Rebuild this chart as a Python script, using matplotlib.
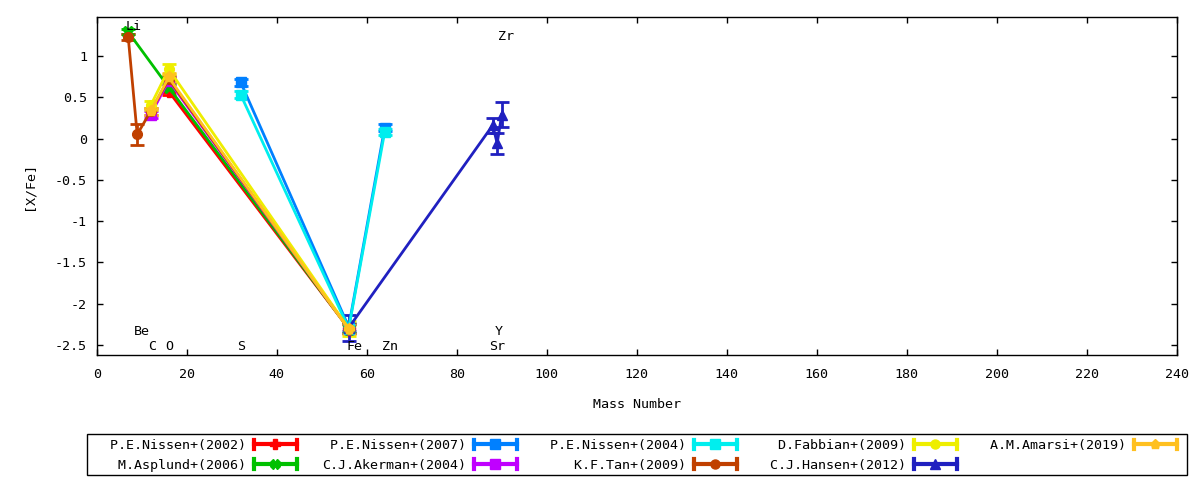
import matplotlib
matplotlib.use("Agg")
import matplotlib.pyplot as plt
from matplotlib.lines import Line2D
from matplotlib.patches import Rectangle
from matplotlib.legend_handler import HandlerBase
from matplotlib.ticker import FormatStrFormatter

plt.rcParams['font.family'] = ['DejaVu Sans Mono']
plt.rcParams['axes.unicode_minus'] = False

# ---------------- data ----------------
nissen2002_mass = [16, 56]
nissen2002_val = [0.57, -2.30]
nissen2002_err = [0.04, 0.05]

asplund2006_mass = [7, 16, 56]
asplund2006_val = [1.29, 0.62, -2.30]
asplund2006_err = [0.03, 0.04, 0.05]

nissen2007_mass = [32, 56, 64]
nissen2007_val = [0.68, -2.28, 0.13]
nissen2007_err = [0.04, 0.05, 0.04]

akerman2004_mass = [12, 16, 56]
akerman2004_val = [0.29, 0.70, -2.30]
akerman2004_err = [0.04, 0.04, 0.05]

nissen2004_mass = [32, 56, 64]
nissen2004_val = [0.53, -2.30, 0.08]
nissen2004_err = [0.04, 0.05, 0.04]

tan2009_mass = [7, 9, 12, 16, 56]
tan2009_val = [1.23, 0.05, 0.33, 0.72, -2.30]
tan2009_err = [0.04, 0.13, 0.04, 0.04, 0.05]

fabbian2009_mass = [12, 16, 56]
fabbian2009_val = [0.40, 0.84, -2.30]
fabbian2009_err = [0.05, 0.06, 0.09]

hansen2012_mass = [56, 88, 89, 90]
hansen2012_val = [-2.29, 0.16, -0.06, 0.29]
hansen2012_err = [0.16, 0.09, 0.13, 0.15]

amarsi2019_mass = [12, 16, 56]
amarsi2019_val = [0.33, 0.74, -2.31]
amarsi2019_err = [0.04, 0.05, 0.05]

element_names = ["Li", "Be", "C", "O", "S", "Fe", "Zn", "Sr", "Y", "Zr"]
element_label_x = [8.3, 10.1, 12.3, 16.2, 32.1, 57.2, 65.2, 89.0, 89.4, 91.0]
element_label_y = [1.36, -2.33, -2.515, -2.515, -2.515, -2.515, -2.515, -2.515, -2.33, 1.235]

x_ticks = list(range(0, 241, 20))
y_ticks = [-2.5, -2, -1.5, -1, -0.5, 0, 0.5, 1]

series = [
    ("P.E.Nissen+(2002)", nissen2002_mass, nissen2002_val, nissen2002_err, "#ff0000", "P", 8),
    ("M.Asplund+(2006)", asplund2006_mass, asplund2006_val, asplund2006_err, "#00c000", "X", 8),
    ("P.E.Nissen+(2007)", nissen2007_mass, nissen2007_val, nissen2007_err, "#0080ff", "s", 7),
    ("C.J.Akerman+(2004)", akerman2004_mass, akerman2004_val, akerman2004_err, "#c000ff", "s", 7),
    ("P.E.Nissen+(2004)", nissen2004_mass, nissen2004_val, nissen2004_err, "#00eeee", "s", 7),
    ("K.F.Tan+(2009)", tan2009_mass, tan2009_val, tan2009_err, "#c04000", "o", 7),
    ("D.Fabbian+(2009)", fabbian2009_mass, fabbian2009_val, fabbian2009_err, "#eeee00", "o", 7),
    ("C.J.Hansen+(2012)", hansen2012_mass, hansen2012_val, hansen2012_err, "#2020c0", "^", 7.5),
    ("A.M.Amarsi+(2019)", amarsi2019_mass, amarsi2019_val, amarsi2019_err, "#ffc020", "p", 8),
]

FS = 9.6

fig = plt.figure(figsize=(12, 4.8), dpi=100)
ax = fig.add_axes([96.7 / 1200, 1 - 355 / 480, 1080 / 1200, (355 - 17.3) / 480])

handles = []
for label, m, v, e, col, mk, ms in series:
    ax.errorbar(m, v, yerr=e, color=col, lw=2, marker=mk, ms=ms,
                capsize=5, capthick=2, elinewidth=2, mec=col, mfc=col)
    handles.append(Line2D([], [], color=col, marker=mk, label=label))

for name, lx, ly in zip(element_names, element_label_x, element_label_y):
    ax.text(lx, ly, name, ha="center", va="center", fontsize=FS, color="black")

ax.set_xlim(0, 240)
ax.set_ylim(-2.62, 1.467)
ax.set_xticks(x_ticks)
ax.set_yticks(y_ticks)
ax.yaxis.set_major_formatter(FormatStrFormatter('%g'))
ax.tick_params(direction="in", length=4.5, width=1, top=True, right=True,
               labelsize=FS)
ax.tick_params(axis="x", pad=9)
ax.tick_params(axis="y", pad=7)
for sp in ax.spines.values():
    sp.set_linewidth(1)

ax.set_xlabel("Mass Number", fontsize=FS, va="center")
ax.xaxis.set_label_coords(0.5, (355 - 405) / 337.7)
ax.set_ylabel("[X/Fe]", fontsize=FS, va="center", ha="center")
ax.yaxis.set_label_coords((29 - 96.7) / 1080, 0.5)


class ErrLineHandler(HandlerBase):
    def create_artists(self, legend, orig_handle, xdescent, ydescent,
                       width, height, fontsize, trans):
        c = orig_handle.get_color()
        mk = orig_handle.get_marker()
        y = height / 2 - ydescent
        x0 = -xdescent
        x1 = x0 + width
        cap = 3.3
        arts = [
            Line2D([x0, x1], [y, y], color=c, lw=3, transform=trans),
            Line2D([x0, x0], [y - cap, y + cap], color=c, lw=3, transform=trans),
            Line2D([x1, x1], [y - cap, y + cap], color=c, lw=3, transform=trans),
            Line2D([(x0 + x1) / 2], [y], color=c, marker=mk, ms=6.5, ls="none",
                   mec=c, mfc=c, transform=trans),
        ]
        return arts


# legend frame drawn separately (gnuplot-style box)
fig.patches.append(Rectangle((87 / 1200, 1 - 475 / 480), 1100 / 1200, 41 / 480,
                             transform=fig.transFigure, fill=False,
                             edgecolor="black", lw=1))

padded = [h.get_label().rjust(18) for h in handles]
leg = fig.legend(handles, padded, loc="upper left",
                 bbox_to_anchor=(102 / 1200, 1 - 439 / 480),
                 ncol=5, markerfirst=False, fontsize=FS,
                 handlelength=3.2, handletextpad=0.6, columnspacing=1.9,
                 labelspacing=0.5, borderpad=0, borderaxespad=0,
                 frameon=False,
                 handler_map={Line2D: ErrLineHandler()})

fig.savefig("out.png", dpi=100)
